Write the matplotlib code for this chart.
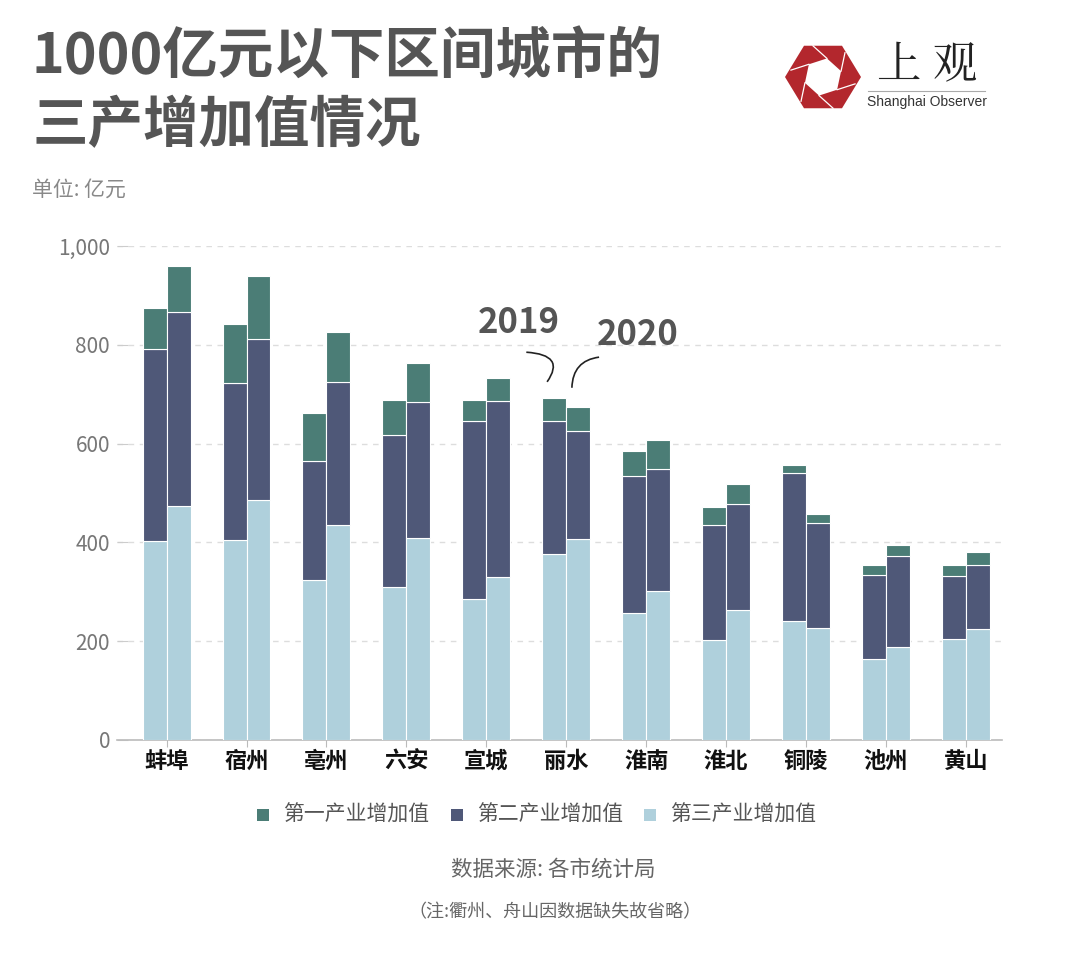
import numpy as np
import matplotlib
matplotlib.use("Agg")
import matplotlib.pyplot as plt
from matplotlib.patches import Polygon, Rectangle, PathPatch
from matplotlib.path import Path

plt.rcParams['font.family'] = ['Noto Sans CJK SC', 'DejaVu Sans']

# data (亿元)
cities = ['蚌埠', '宿州', '亳州', '六安', '宣城', '丽水', '淮南', '淮北', '铜陵', '池州', '黄山']
first_2019 = [82, 119, 96, 71, 43, 46, 51, 37, 17, 20, 23]
second_2019 = [389, 318, 242, 307, 361, 269, 278, 232, 299, 171, 128]
third_2019 = [403, 405, 323, 310, 285, 377, 257, 203, 241, 163, 204]
first_2020 = [93, 128, 102, 79, 46, 50, 58, 41, 17, 23, 27]
second_2020 = [393, 326, 288, 276, 357, 219, 247, 214, 214, 183, 130]
third_2020 = [474, 485, 436, 409, 330, 406, 302, 263, 226, 189, 224]
series_names = ['第一产业增加值', '第二产业增加值', '第三产业增加值']
colors = ['#4b7d76', '#4f5878', '#afd0dc']

W, H = 1080, 972
fig = plt.figure(figsize=(W / 100, H / 100), dpi=100)
fig.patch.set_facecolor('white')

def fx(px):
    return px / W

def fy(py):
    return 1 - py / H

# plot area
ax = fig.add_axes([fx(117), fy(740), fx(1002 - 117), (740 - 246) / H])
x = np.arange(len(cities))
bw = 0.3
for off, f, s, t in [(-bw / 2, first_2019, second_2019, third_2019),
                     (bw / 2, first_2020, second_2020, third_2020)]:
    f, s, t = np.array(f), np.array(s), np.array(t)
    ax.bar(x + off, t, bw, color=colors[2], edgecolor='white', linewidth=0.8, zorder=3)
    ax.bar(x + off, s, bw, bottom=t, color=colors[1], edgecolor='white', linewidth=0.8, zorder=3)
    ax.bar(x + off, f, bw, bottom=t + s, color=colors[0], edgecolor='white', linewidth=0.8, zorder=3)

ax.set_xlim(-0.62, 10.45)
ax.set_ylim(0, 1000)
ax.set_yticks([0, 200, 400, 600, 800, 1000])
ax.set_yticklabels(['0', '200', '400', '600', '800', '1,000'])
ax.yaxis.grid(True, color='#dddddd', linestyle=(0, (4, 4)), linewidth=1)
ax.set_axisbelow(True)
for sp in ['top', 'right', 'left']:
    ax.spines[sp].set_visible(False)
ax.spines['bottom'].set_color('#bbbbbb')
ax.spines['bottom'].set_linewidth(1.2)
ax.tick_params(axis='y', length=8, direction='in', color='#cccccc', labelsize=15,
               labelcolor='#777777', pad=5)
ax.set_xticks(x)
ax.set_xticklabels(cities, fontsize=16, fontweight='bold', color='#111111')
ax.tick_params(axis='x', length=5, color='#bbbbbb', pad=2)

# year annotations with hand-drawn style pointers
ax.text(4.41, 846, '2019', fontsize=25, fontweight='bold', color='#555555',
        ha='center', va='center')
ax.text(5.89, 820, '2020', fontsize=25, fontweight='bold', color='#555555',
        ha='center', va='center')
hook19 = Path([(4.5, 785), (5.0, 780), (4.76, 725)], [Path.MOVETO, Path.CURVE3, Path.CURVE3])
hook20 = Path([(5.41, 775), (5.08, 768), (5.07, 713)], [Path.MOVETO, Path.CURVE3, Path.CURVE3])
for p in (hook19, hook20):
    ax.add_patch(PathPatch(p, facecolor='none', edgecolor='#222222', lw=1.2, zorder=4))

# title and unit
fig.text(fx(32), fy(57), '1000亿元以下区间城市的', fontsize=40, fontweight='bold',
         color='#555555', va='center', ha='left')
fig.text(fx(32), fy(126), '三产增加值情况', fontsize=40, fontweight='bold',
         color='#555555', va='center', ha='left')
fig.text(fx(32), fy(190), '单位: 亿元', fontsize=15, color='#888888', va='center', ha='left')

# logo: flat-top hexagon with a shutter-like hole
cx, cy, r = 823, 77, 38
ang = np.deg2rad(np.arange(6) * 60)
outer = [(fx(cx + r * np.cos(a)), fy(cy - r * 0.95 * np.sin(a))) for a in ang]
fig.patches.append(Polygon(outer, closed=True, transform=fig.transFigure,
                           facecolor='#b3272d', edgecolor='none'))
ri = 19
ang_in = ang + np.deg2rad(18)
inner_px = [(cx + ri * np.cos(a), cy - ri * np.sin(a)) for a in ang_in]
inner = [(fx(px), fy(py)) for px, py in inner_px]
fig.patches.append(Polygon(inner, closed=True, transform=fig.transFigure,
                           facecolor='white', edgecolor='none'))
for i in range(6):
    p0 = np.array(inner_px[i])
    p1 = np.array(inner_px[(i + 1) % 6])
    d = (p1 - p0) / np.linalg.norm(p1 - p0)
    # extend the inner edge until it reaches the outer ring
    t = np.linspace(0, 80, 400)
    pts = p1 + np.outer(t, d)
    dist = np.hypot(pts[:, 0] - cx, pts[:, 1] - cy)
    end = pts[np.argmax(dist > r * 0.86)]
    fig.lines.append(plt.Line2D([fx(p1[0]), fx(end[0])], [fy(p1[1]), fy(end[1])],
                                transform=fig.transFigure, color='white', lw=0.9))
fig.text(fx(927), fy(66), '上 观', fontsize=32, color='#222222', ha='center', va='center',
         family=['Noto Serif CJK SC', 'Noto Sans CJK SC'])
fig.lines.append(plt.Line2D([fx(868), fx(985)], [fy(91), fy(91)], transform=fig.transFigure,
                            color='#aaaaaa', lw=0.8))
fig.text(fx(927), fy(102), 'Shanghai Observer', fontsize=10, color='#333333',
         ha='center', va='center', family=['Liberation Sans', 'DejaVu Sans'])

# legend
lx = [263, 457, 650]
for px, name, c in zip(lx, series_names, colors):
    fig.patches.append(Rectangle((fx(px - 6), fy(821)), 12 / W, 12 / H,
                                 transform=fig.transFigure, facecolor=c, edgecolor='none'))
    fig.text(fx(px + 20), fy(815), name, fontsize=15, color='#555555', va='center', ha='left')

# source
fig.text(fx(553), fy(870), '数据来源: 各市统计局', fontsize=15.5, color='#666666',
         ha='center', va='center')
fig.text(fx(555), fy(912), '（注:衢州、舟山因数据缺失故省略）', fontsize=13, color='#666666',
         ha='center', va='center')

fig.savefig('out.png', dpi=100, facecolor='white')
